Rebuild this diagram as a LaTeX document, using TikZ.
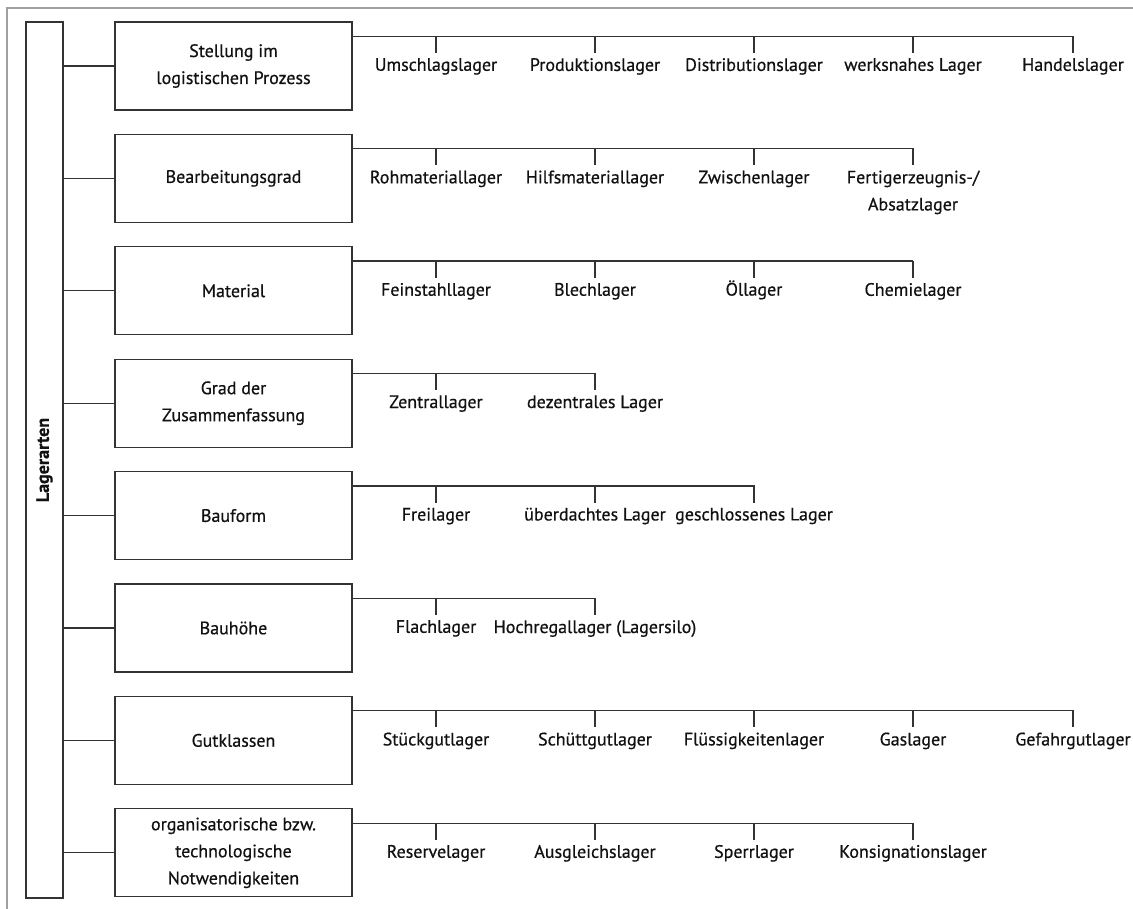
\documentclass[tikz,border=0pt]{standalone}
\usepackage{fontspec}
\setmainfont{PT Sans}[FakeBold=0.6]
\definecolor{linec}{HTML}{333333}
\definecolor{textc}{HTML}{111111}
\definecolor{framec}{HTML}{A0A0A0}
\newcommand{\fs}{\fontsize{18}{27}\selectfont}
\begin{document}
\begin{tikzpicture}[x=1pt,y=-1pt,
  cat/.style={draw=linec, line width=1.2pt, minimum width=237pt, minimum height=88pt, align=center, inner sep=0pt, font=\fs, text=textc},
  leaf/.style={anchor=north, inner xsep=0pt, inner ysep=5pt, align=center, font=\fs, text=textc},
  conn/.style={draw=linec, line width=1.2pt},
  thickconn/.style={draw=linec, line width=2pt}]
\useasboundingbox (0,0) rectangle (1133,909);
\draw[framec, line width=2pt] (1133,8) -- (7,8) -- (7,909);

\node[draw=linec, line width=1.2pt, minimum width=37pt, minimum height=876pt, inner sep=0pt, font=\fs\bfseries, text=textc] (root) at (44.5,460) {\rotatebox{90}{Lagerarten}};

% Row 1
\node[cat] (c1) at (233.5,66) {Stellung im\\logistischen Prozess};
\draw[conn] (root.east |- c1) -- (c1);
\coordinate (b1) at ([yshift=-15pt]c1.north east);
\node[leaf] (l11) at (436,53) {Umschlagslager};
\node[leaf] (l12) at (595,53) {Produktionslager};
\node[leaf] (l13) at (754,53) {Distributionslager};
\node[leaf] (l14) at (913,53) {werksnahes Lager};
\node[leaf] (l15) at (1073,53) {Handelslager};
\draw[conn] (b1) -| (l15.north);
\foreach \n in {l11,l12,l13,l14} \draw[conn] (b1 -| \n.north) -- (\n.north);

% Row 2
\node[cat] (c2) at (233.5,178.4) {Bearbeitungsgrad};
\draw[conn] (root.east |- c2) -- (c2);
\coordinate (b2) at ([yshift=-15pt]c2.north east);
\node[leaf] (l21) at (436,165.4) {Rohmateriallager};
\node[leaf] (l22) at (595,165.4) {Hilfsmateriallager};
\node[leaf] (l23) at (754,165.4) {Zwischenlager};
\node[leaf] (l24) at (913,165.4) {Fertigerzeugnis-/\\Absatzlager};
\draw[conn] (b2) -| (l24.north);
\foreach \n in {l21,l22,l23} \draw[conn] (b2 -| \n.north) -- (\n.north);

% Row 3
\node[cat] (c3) at (233.5,290.8) {Material};
\draw[conn] (root.east |- c3) -- (c3);
\coordinate (b3) at ([yshift=-15pt]c3.north east);
\node[leaf] (l31) at (436,277.8) {Feinstahllager};
\node[leaf] (l32) at (595,277.8) {Blechlager};
\node[leaf] (l33) at (754,277.8) {\smash{Ö}llager};
\node[leaf] (l34) at (913,277.8) {Chemielager};
\draw[thickconn] (b3) -- (b3 -| l34.north);
\draw[conn] (b3 -| l34.north) -- (l34.north);
\foreach \n in {l31,l32,l33} \draw[conn] (b3 -| \n.north) -- (\n.north);

% Row 4
\node[cat] (c4) at (233.5,403.2) {Grad der\\Zusammenfassung};
\draw[conn] (root.east |- c4) -- (c4);
\coordinate (b4) at ([yshift=-15pt]c4.north east);
\node[leaf] (l41) at (436,390.2) {Zentrallager};
\node[leaf] (l42) at (595,390.2) {dezentrales Lager};
\draw[conn] (b4) -| (l42.north);
\draw[conn] (b4 -| l41.north) -- (l41.north);

% Row 5
\node[cat] (c5) at (233.5,515.6) {Bauform};
\draw[conn] (root.east |- c5) -- (c5);
\coordinate (b5) at ([yshift=-15pt]c5.north east);
\node[leaf] (l51) at (436,502.6) {Freilager};
\node[leaf] (l52) at (595,502.6) {überdachtes Lager};
\node[leaf] (l53) at (754,502.6) {geschlossenes Lager};
\draw[conn] (b5) -| (l53.north);
\foreach \n in {l51,l52} \draw[conn] (b5 -| \n.north) -- (\n.north);

% Row 6
\node[cat] (c6) at (233.5,628) {Bauhöhe};
\draw[conn] (root.east |- c6) -- (c6);
\coordinate (b6) at ([yshift=-15pt]c6.north east);
\node[leaf] (l61) at (436,615) {Flachlager};
\node[leaf] (l62) at (595,615) {Hochregallager (Lagersilo)};
\draw[conn] (b6) -| (l62.north);
\draw[conn] (b6 -| l61.north) -- (l61.north);

% Row 7
\node[cat] (c7) at (233.5,740.4) {Gutklassen};
\draw[conn] (root.east |- c7) -- (c7);
\coordinate (b7) at ([yshift=-15pt]c7.north east);
\node[leaf] (l71) at (436,727.4) {Stückgutlager};
\node[leaf] (l72) at (595,727.4) {Schüttgutlager};
\node[leaf] (l73) at (754,727.4) {Flüssigkeitenlager};
\node[leaf] (l74) at (913,727.4) {Gaslager};
\node[leaf] (l75) at (1073,727.4) {Gefahrgutlager};
\draw[conn] (b7) -| (l75.north);
\foreach \n in {l71,l72,l73,l74} \draw[conn] (b7 -| \n.north) -- (\n.north);

% Row 8
\node[cat] (c8) at (233.5,852.8) {organisatorische bzw.\\technologische\\Notwendigkeiten};
\draw[conn] (root.east |- c8) -- (c8);
\coordinate (b8) at ([yshift=-15pt]c8.north east);
\node[leaf] (l81) at (436,839.8) {Reservelager};
\node[leaf] (l82) at (595,839.8) {Ausgleichslager};
\node[leaf] (l83) at (754,839.8) {Sperrlager};
\node[leaf] (l84) at (913,839.8) {Konsignationslager};
\draw[conn] (b8) -| (l84.north);
\foreach \n in {l81,l82,l83} \draw[conn] (b8 -| \n.north) -- (\n.north);
\end{tikzpicture}
\end{document}
